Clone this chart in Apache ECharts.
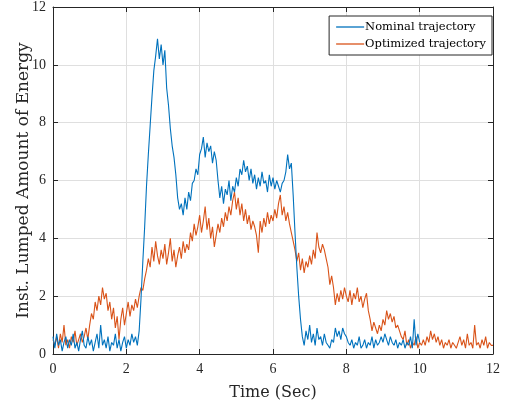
<!DOCTYPE html>
<html><head><meta charset="utf-8">
<script src="https://cdn.jsdelivr.net/npm/echarts@6/dist/echarts.min.js"></script>
<style>html,body{margin:0;padding:0;background:#fff}#c{width:509px;height:404px}</style>
</head><body><div id="c"></div>
<script>
var timeStep = 0.05;
var seriesNames = ['Nominal trajectory', 'Optimized trajectory'];
var xTicks = [0, 2, 4, 6, 8, 10, 12];
var yTicks = [0, 2, 4, 6, 8, 10, 12];
var nominal = [
0.6,0.2,0.7,0.3,0.5,0.1,0.4,0.6,0.2,0.5,0.3,0.7,0.2,0.4,0.1,0.5,0.8,0.3,0.2,0.6,
0.3,0.5,0.1,0.4,0.7,0.2,1.0,0.3,0.5,0.2,0.6,0.1,0.4,0.3,0.7,0.2,0.5,0.1,0.4,0.6,
0.2,0.5,0.3,0.7,0.4,0.6,0.3,0.8,
1.9,3.2,4.4,5.8,6.9,7.9,8.9,9.8,10.3,10.9,10.2,10.7,
10.0,10.5,9.2,8.6,7.8,7.2,6.8,6.2,5.4,5.0,
5.2,4.8,5.4,5.0,5.6,5.3,5.9,6.0,6.4,6.2,
6.9,7.1,7.5,6.8,7.3,7.0,7.2,6.6,7.0,6.7,
6.0,5.4,5.8,5.2,5.7,5.5,6.0,5.3,5.8,5.6,
6.1,5.8,6.4,6.2,6.7,6.3,6.5,6.0,6.4,5.9,
6.2,5.7,6.1,5.8,6.3,5.9,6.0,5.6,6.2,5.8,
6.1,5.7,6.0,5.8,5.6,5.9,6.0,6.3,6.9,6.4,
6.6,5.5,4.2,3.0,2.0,1.2,0.6,0.3,0.8,0.5,
1.0,0.4,0.7,0.3,0.9,0.5,0.6,0.3,0.7,0.4,
0.3,0.2,0.5,0.4,0.9,0.6,0.8,0.5,0.9,0.7,
0.6,0.4,0.3,0.5,0.2,0.4,0.3,0.6,0.2,0.3,
0.5,0.2,0.4,0.3,0.6,0.2,0.5,0.3,0.4,0.6,
0.4,0.7,0.5,0.3,0.6,0.4,0.3,0.5,0.2,0.4,
0.3,0.5,0.2,0.4,0.3,0.6,0.2,1.2,0.3,0.7,
0.4
];
var optimized = [
0.5,0.3,0.6,0.2,0.7,0.4,1.0,0.3,0.5,0.2,0.6,0.4,0.8,0.3,0.5,0.7,0.4,0.6,0.9,0.5,
1.0,1.4,1.2,1.8,1.5,2.0,1.7,2.3,1.9,2.1,1.5,1.8,1.2,1.6,0.9,1.3,0.5,1.2,1.6,1.0,
1.4,1.8,1.3,1.7,1.5,1.9,1.6,2.0,2.3,2.2,
2.6,2.9,3.3,3.0,3.7,3.2,3.9,3.4,3.1,3.6,
3.3,3.8,3.1,3.5,4.0,3.2,3.6,3.0,3.4,3.7,
3.3,3.9,3.5,3.8,3.6,4.2,3.9,4.5,4.1,4.4,
4.8,4.2,4.6,5.1,4.3,4.7,4.0,4.4,3.7,4.1,
4.5,4.2,4.7,4.4,4.9,4.6,5.1,4.8,5.3,5.6,
5.0,5.4,4.8,5.2,4.6,5.0,4.5,4.8,4.3,4.6,
4.4,4.1,3.5,4.6,4.2,4.7,4.4,4.9,4.5,4.8,
4.6,5.0,4.7,5.2,5.5,4.8,5.1,4.6,4.9,4.5,
4.2,3.9,3.6,3.2,3.5,2.9,3.3,2.8,3.2,3.0,
3.4,3.1,3.6,3.3,4.2,3.7,3.5,3.8,3.6,3.3,
3.0,2.4,2.7,2.3,1.7,2.1,1.8,2.2,1.9,2.3,
2.0,1.8,2.2,1.7,2.1,1.9,2.3,1.8,2.0,1.6,
1.9,2.1,1.5,1.2,0.8,1.1,0.9,0.7,1.0,0.8,
1.2,1.0,1.5,1.2,1.4,1.1,1.3,0.9,1.0,0.8,
0.6,0.5,0.8,0.3,0.5,0.2,0.4,0.3,0.6,0.2,
0.4,0.3,0.5,0.3,0.6,0.4,0.8,0.5,0.7,0.4,
0.6,0.3,0.5,0.2,0.4,0.3,0.5,0.2,0.4,0.3,
0.2,0.4,0.6,0.3,0.5,0.2,0.7,0.3,0.4,0.2,
1.0,0.3,0.4,0.2,0.5,0.3,0.6,0.2,0.4,0.3,
0.3
];
function pairs(arr){ return arr.map(function(v,i){ return [+(i*timeStep).toFixed(2), v]; }); }
var FONT = 'DejaVu Serif';
var TFONT = 'Liberation Serif';
var chart = echarts.init(document.getElementById('c'), null, {renderer:'canvas'});
var axisCommon = {
  min: 0, max: 12, interval: 2,
  axisLine: {show: true, onZero: false, lineStyle: {color: '#262626', width: 1}},
  axisTick: {show: true, inside: true, length: 5, lineStyle: {color: '#262626'}}
};
chart.setOption({
  animation: false,
  grid: {left: 53, right: 16, top: 7, bottom: 50, containLabel: false, outerBoundsMode: 'none'},
  legend: {
    data: seriesNames, orient: 'vertical', right: 17, top: 16,
    icon: 'rect', itemWidth: 28, itemHeight: 1.3,
    backgroundColor: '#fff', borderColor: '#262626', borderWidth: 1,
    padding: [5, 6, 5, 7], itemGap: 5,
    textStyle: {fontFamily: FONT, fontSize: 11.5, color: '#000', padding: [0, 0, 0, -4]}
  },
  xAxis: [
    Object.assign({}, axisCommon, {type: 'value', position: 'bottom',
      name: 'Time (Sec)', nameLocation: 'middle', nameGap: 31, nameMoveOverlap: false,
      nameTextStyle: {fontFamily: FONT, fontSize: 16, color: '#262626'},
      axisLabel: {fontFamily: TFONT, fontSize: 14, color: '#262626', margin: 8,
        customValues: xTicks},
      splitLine: {show: true, lineStyle: {color: '#dfdfdf', width: 1}}}),
    Object.assign({}, axisCommon, {type: 'value', position: 'top',
      axisLabel: {show: false}, splitLine: {show: false}})
  ],
  yAxis: [
    Object.assign({}, axisCommon, {type: 'value', position: 'left',
      name: 'Inst. Lumped Amount of Energy', nameLocation: 'middle', nameGap: 21, nameMoveOverlap: false,
      nameTextStyle: {fontFamily: FONT, fontSize: 17, color: '#262626'},
      axisLabel: {fontFamily: TFONT, fontSize: 14, color: '#262626', margin: 7,
        customValues: yTicks},
      splitLine: {show: true, lineStyle: {color: '#dfdfdf', width: 1}}}),
    Object.assign({}, axisCommon, {type: 'value', position: 'right',
      axisLabel: {show: false}, splitLine: {show: false}})
  ],
  series: [
    {name: seriesNames[0], type: 'line', data: pairs(nominal), symbol: 'none',
     lineStyle: {color: '#0072BD', width: 1.1}, itemStyle: {color: '#0072BD'}, z: 3},
    {name: seriesNames[1], type: 'line', data: pairs(optimized), symbol: 'none',
     lineStyle: {color: '#D95319', width: 1.1}, itemStyle: {color: '#D95319'}, z: 2}
  ]
});
</script></body></html>
